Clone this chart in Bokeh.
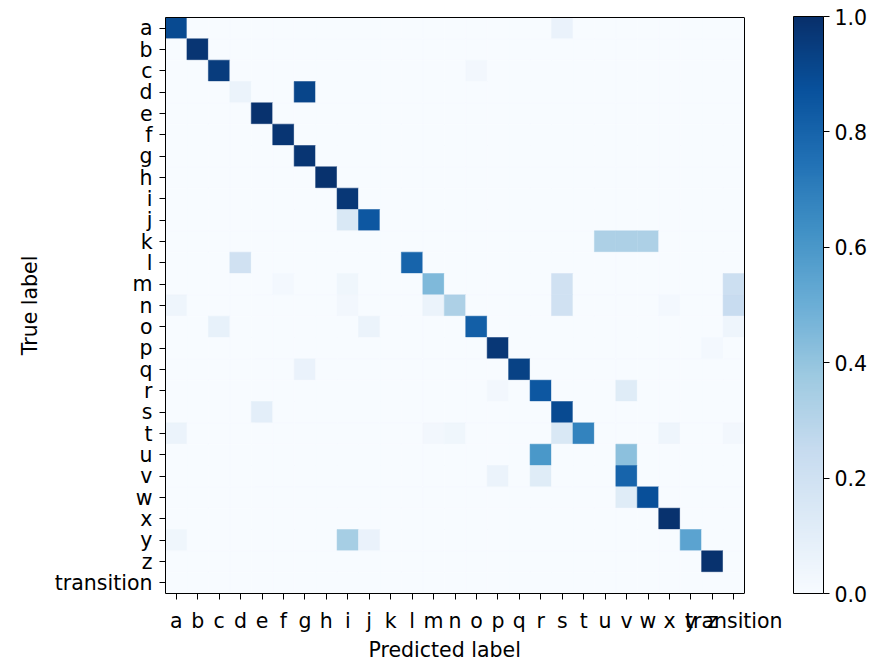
from bokeh.plotting import figure
from bokeh.models import (LinearColorMapper, ColorBar, FixedTicker, PrintfTickFormatter,
                          FactorRange, Range1d, ColumnDataSource, LinearAxis, Span, Title)
from bokeh.palettes import Blues256
from bokeh.embed import file_html
from bokeh.resources import INLINE

labels = list("abcdefghijklmnopqrstuvwxyz") + ["transition"]

# non-zero cells of the normalised confusion matrix (true, predicted, value)
true_lab = ["a", "a", "b", "c", "c", "d", "d", "e", "f", "g", "h", "i",
            "j", "j", "k", "k", "k", "l", "l",
            "m", "m", "m", "m", "m",
            "n", "n", "n", "n", "n", "n", "n",
            "o", "o", "o", "o", "p", "p", "q", "q",
            "r", "r", "r", "s", "s",
            "t", "t", "t", "t", "t", "t", "t",
            "u", "u", "v", "v", "v", "w", "w", "x",
            "y", "y", "y", "y", "z"]
pred_lab = ["a", "s", "b", "c", "o", "d", "g", "e", "f", "g", "h", "i",
            "i", "j", "u", "v", "w", "d", "l",
            "f", "i", "m", "s", "transition",
            "a", "i", "m", "n", "s", "x", "transition",
            "c", "j", "o", "transition", "p", "z", "g", "q",
            "p", "r", "v", "e", "s",
            "a", "m", "n", "s", "t", "x", "transition",
            "r", "v", "p", "r", "v", "v", "w", "x",
            "a", "i", "j", "y", "z"]
values = [0.90, 0.07, 0.98, 0.95, 0.03, 0.06, 0.92, 0.99, 0.98, 0.98, 0.99, 0.97,
          0.15, 0.85, 0.33, 0.33, 0.33, 0.20, 0.80,
          0.02, 0.04, 0.45, 0.20, 0.22,
          0.05, 0.03, 0.06, 0.33, 0.20, 0.02, 0.24,
          0.08, 0.06, 0.82, 0.05, 0.97, 0.02, 0.07, 0.93,
          0.03, 0.85, 0.12, 0.10, 0.90,
          0.06, 0.03, 0.04, 0.15, 0.68, 0.05, 0.03,
          0.60, 0.42, 0.06, 0.12, 0.80, 0.12, 0.88, 0.99,
          0.04, 0.35, 0.07, 0.55, 0.99]

N = len(labels)
col_index = {lab: i + 0.5 for i, lab in enumerate(labels)}   # column centres

# full grid
lookup = {(t, p): v for t, p, v in zip(true_lab, pred_lab, values)}
xs, ys, vs = [], [], []
for t in labels:
    for pr in labels:
        xs.append(col_index[pr])
        ys.append(t)
        vs.append(lookup.get((t, pr), 0.0))
src = ColumnDataSource(dict(x=xs, y=ys, v=vs))

palette = list(reversed(Blues256))
mapper = LinearColorMapper(palette=palette, low=0.0, high=1.0)

# layout: matrix occupies 579 px of a 623 px wide frame, so long x labels are not pushed inward
W, H = 874, 661
LEFT, RIGHT_BORDER, TOP, BOTTOM = 165, 86, 17, 67
MATRIX_PX = 579
frame_px = W - LEFT - RIGHT_BORDER
x_range = Range1d(0, N * frame_px / MATRIX_PX)

p = figure(width=W, height=H, output_backend="svg", toolbar_location=None,
           x_range=x_range, y_range=FactorRange(factors=labels[::-1]),
           min_border_left=LEFT, min_border_right=RIGHT_BORDER,
           min_border_top=TOP, min_border_bottom=BOTTOM)
p.rect(x="x", y="y", width=1, height=1, source=src,
       fill_color={"field": "v", "transform": mapper},
       line_color={"field": "v", "transform": mapper}, line_width=0.5)

FONT = "DejaVu Sans"
FS = "20.5px"
for ax in (p.xaxis[0], p.yaxis[0]):
    ax.major_label_text_font = FONT
    ax.major_label_text_font_size = FS
    ax.major_label_text_color = "black"
    ax.axis_label_text_font = FONT
    ax.axis_label_text_font_size = FS
    ax.axis_label_text_font_style = "normal"
    ax.axis_label_text_color = "black"
    ax.major_tick_out = 6
    ax.major_tick_in = 0
    ax.axis_line_color = "black"
    ax.major_tick_line_color = "black"
    ax.major_label_standoff = 7
p.yaxis.axis_label = "True label"
p.yaxis.axis_label_standoff = 10
p.xaxis.ticker = FixedTicker(ticks=[col_index[l] for l in labels])
p.xaxis.major_label_overrides = {col_index[l]: l for l in labels}
p.xaxis.minor_tick_line_color = None
p.xaxis.bounds = (0, N)
p.xaxis.major_label_standoff = 9
p.xgrid.visible = False
p.ygrid.visible = False
p.outline_line_color = None
p.background_fill_color = "white"

# x axis title, centred under the matrix (not under the wider frame)
p.add_layout(Title(text="Predicted label", align="left", offset=203, standoff=0,
                   text_font=FONT, text_font_size=FS, text_font_style="normal",
                   text_color="black"), "below")

# top and right edges of the matrix box
top_axis = LinearAxis(bounds=(0, N), ticker=FixedTicker(ticks=[]),
                      major_label_text_color=None, major_tick_line_color=None,
                      minor_tick_line_color=None, axis_line_color="black")
p.add_layout(top_axis, "above")
p.add_layout(Span(location=N, dimension="height", line_color="black", line_width=1))

cb = ColorBar(color_mapper=mapper, width=30, height=577, padding=0, margin=0,
              location=(5, 0),
              ticker=FixedTicker(ticks=[0, 0.2, 0.4, 0.6, 0.8, 1.0]),
              formatter=PrintfTickFormatter(format="%.1f"),
              major_label_text_font=FONT, major_label_text_font_size=FS,
              major_label_text_color="black",
              major_tick_in=0, major_tick_out=6, major_tick_line_color="black",
              bar_line_color="black", bar_line_width=1,
              background_fill_color=None, border_line_color=None)
p.add_layout(cb, "right")

open("out.html", "w").write(file_html(p, INLINE))
